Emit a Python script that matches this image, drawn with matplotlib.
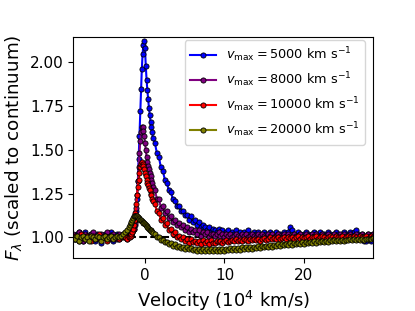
import numpy as np
import matplotlib
matplotlib.use("Agg")
import matplotlib.pyplot as plt

# velocity grid (10^4 km/s): left wing, line core, red wing
vel_blue_wing = np.round(np.arange(-9.0, -1.99, 0.25), 2)
vel_core = np.round(np.arange(-1.9, 1.01, 0.1), 2)
vel_red_wing = np.round(np.arange(1.25, 29.01, 0.25), 2)
vel = np.concatenate([vel_blue_wing, vel_core, vel_red_wing])

flux_5000 = [
    # -9.0 .. -2.0
    1.01, 0.99, 1.02, 1.03, 1.00, 0.98, 1.03, 1.01, 0.99, 1.02,
    1.00, 0.98, 1.02, 1.01, 0.97, 1.00, 1.02, 0.99, 1.01, 1.03,
    0.98, 1.00, 1.02, 0.99, 1.01, 1.02, 1.00, 0.99, 1.02,
    # -1.9 .. 1.0
    1.01, 1.02, 1.02, 1.03, 1.04, 1.05, 1.07, 1.10, 1.15, 1.22,
    1.32, 1.45, 1.58, 1.72, 1.85, 1.96, 2.05, 2.10, 2.12, 2.08,
    1.98, 1.90, 1.84, 1.79, 1.74, 1.70, 1.66, 1.63, 1.60, 1.57,
    # 1.25 .. 29.0
    1.54, 1.48, 1.46, 1.40, 1.38, 1.33, 1.31, 1.27, 1.26, 1.22,
    1.21, 1.18, 1.18, 1.15, 1.15, 1.13, 1.13, 1.10, 1.12, 1.09,
    1.10, 1.07, 1.09, 1.06, 1.07, 1.06, 1.04, 1.06, 1.03, 1.05,
    1.04, 1.03, 1.05, 1.03, 1.04, 1.02, 1.03, 1.04, 1.02, 1.03,
    1.02, 1.04, 1.02, 1.03, 1.01, 1.03, 1.02, 1.04, 1.02, 1.01,
    1.03, 1.02, 1.03, 1.01, 1.02, 1.03, 1.02, 1.01, 1.03, 1.02,
    1.01, 1.03, 1.02, 1.02, 1.01, 1.03, 1.02, 1.03, 1.06, 1.04,
    1.02, 1.01, 1.03, 1.02, 1.01, 1.02, 1.03, 1.02, 1.01, 1.02,
    1.03, 1.02, 1.01, 1.03, 1.02, 1.02, 1.01, 1.03, 1.02, 1.01,
    1.02, 1.03, 1.02, 1.01, 1.02, 1.03, 1.02, 1.01, 1.03, 1.02,
    1.03, 1.04, 1.02, 1.01, 1.02, 0.98, 0.98, 1.02, 1.01, 0.98,
    1.02, 1.01]

flux_8000 = [
    1.02, 0.99, 1.01, 1.03, 1.00, 0.98, 1.02, 1.01, 0.99, 1.02,
    1.03, 1.00, 1.01, 0.99, 1.02, 1.00, 1.01, 1.03, 0.99, 1.01,
    1.02, 1.00, 0.99, 1.02, 1.01, 1.00, 1.02, 1.01, 1.01,
    1.01, 1.02, 1.02, 1.03, 1.04, 1.05, 1.08, 1.12, 1.17, 1.24,
    1.32, 1.40, 1.48, 1.55, 1.60, 1.63, 1.63, 1.61, 1.58, 1.54,
    1.50, 1.46, 1.43, 1.41, 1.39, 1.37, 1.35, 1.33, 1.31, 1.29,
    1.27, 1.22, 1.22, 1.17, 1.18, 1.14, 1.15, 1.11, 1.12, 1.09,
    1.10, 1.07, 1.08, 1.06, 1.07, 1.04, 1.06, 1.03, 1.05, 1.03,
    1.04, 1.02, 1.04, 1.01, 1.03, 1.02, 1.03, 1.00, 1.02, 1.02,
    1.01, 1.02, 1.03, 1.01, 1.02, 1.00, 1.02, 1.01, 1.02, 1.00,
    1.01, 1.02, 1.01, 1.00, 1.02, 1.01, 1.02, 1.00, 1.01, 1.02,
    1.01, 1.00, 1.02, 1.01, 1.02, 1.01, 1.00, 1.02, 1.01, 1.02,
    1.00, 1.01, 1.02, 1.01, 1.00, 1.02, 1.01, 1.02, 1.01, 1.00,
    1.02, 1.01, 1.01, 1.02, 1.00, 1.01, 1.02, 1.01, 1.00, 1.02,
    1.01, 1.02, 1.01, 1.00, 1.02, 1.01, 1.01, 1.02, 1.00, 1.01,
    1.02, 1.01, 1.00, 1.02, 1.01, 1.02, 1.01, 1.00, 1.02, 1.01,
    1.01, 1.02, 1.00, 1.01, 1.02, 1.01, 1.00, 1.02, 1.01, 1.01,
    1.02, 1.01]

flux_10000 = [
    0.99, 1.01, 1.00, 0.98, 1.02, 1.00, 0.99, 1.01, 1.00, 0.98,
    1.01, 0.99, 1.00, 1.02, 0.99, 1.00, 1.01, 0.98, 1.00, 1.01,
    0.99, 1.00, 1.01, 0.99, 1.00, 1.01, 1.00, 0.99, 1.00,
    1.00, 1.01, 1.02, 1.03, 1.05, 1.07, 1.10, 1.14, 1.19, 1.24,
    1.29, 1.33, 1.37, 1.40, 1.42, 1.43, 1.42, 1.41, 1.39, 1.37,
    1.35, 1.33, 1.31, 1.30, 1.28, 1.27, 1.25, 1.24, 1.22, 1.21,
    1.19, 1.15, 1.14, 1.10, 1.11, 1.07, 1.08, 1.04, 1.05, 1.02,
    1.03, 1.00, 1.01, 0.99, 1.00, 0.98, 0.99, 0.97, 0.99, 0.975,
    0.98, 0.97, 0.98, 0.965, 0.985, 0.97, 0.98, 0.965, 0.985, 0.97,
    0.97, 0.98, 0.975, 0.98, 0.97, 0.98, 0.985, 0.975, 0.98, 0.985,
    0.98, 0.99, 0.98, 0.985, 0.98, 0.99, 0.985, 0.98, 0.99, 0.985,
    0.99, 0.985, 0.99, 0.98, 0.99, 0.995, 0.985, 0.99, 1.00, 0.99,
    0.995, 0.99, 1.00, 0.99, 0.995, 1.00, 0.99, 1.00, 0.995, 1.00,
    0.99, 1.00, 1.01, 0.99, 1.00, 0.995, 1.00, 1.01, 0.99, 1.00,
    1.00, 1.01, 0.99, 1.00, 1.01, 1.00, 0.99, 1.00, 1.01, 1.00,
    0.99, 1.01, 1.00, 1.00, 1.01, 0.99, 1.00, 1.01, 1.00, 0.99,
    1.01, 1.00, 0.99, 1.01, 1.00, 1.00, 1.01, 0.99, 1.00, 1.01,
    1.00, 1.00]

flux_20000 = [
    1.00, 0.99, 1.01, 0.98, 1.00, 1.01, 0.99, 1.00, 0.98, 1.01,
    1.00, 0.99, 1.01, 1.00, 0.98, 1.00, 1.01, 0.99, 1.00, 1.01,
    0.99, 1.00, 1.01, 1.00, 1.01, 1.02, 1.03, 1.04, 1.06,
    1.07, 1.08, 1.09, 1.10, 1.11, 1.12, 1.125, 1.125, 1.12, 1.12,
    1.115, 1.11, 1.105, 1.10, 1.10, 1.095, 1.09, 1.085, 1.08, 1.075,
    1.07, 1.065, 1.06, 1.055, 1.05, 1.045, 1.04, 1.035, 1.03, 1.025,
    1.02, 1.00, 1.00, 0.985, 0.988, 0.972, 0.975, 0.96, 0.968, 0.953,
    0.96, 0.946, 0.952, 0.94, 0.948, 0.936, 0.944, 0.932, 0.94, 0.928,
    0.937, 0.925, 0.935, 0.922, 0.934, 0.921, 0.933, 0.92, 0.932, 0.922,
    0.933, 0.921, 0.934, 0.923, 0.935, 0.924, 0.937, 0.926, 0.938, 0.928,
    0.939, 0.929, 0.941, 0.931, 0.943, 0.933, 0.945, 0.935, 0.946, 0.937,
    0.948, 0.939, 0.95, 0.941, 0.952, 0.943, 0.954, 0.945, 0.956, 0.948,
    0.958, 0.95, 0.96, 0.952, 0.962, 0.955, 0.964, 0.957, 0.966, 0.959,
    0.968, 0.961, 0.97, 0.963, 0.972, 0.965, 0.974, 0.967, 0.975, 0.969,
    0.977, 0.971, 0.978, 0.973, 0.98, 0.974, 0.981, 0.976, 0.983, 0.977,
    0.984, 0.979, 0.985, 0.98, 0.987, 0.982, 0.988, 0.983, 0.989, 0.984,
    0.99, 0.986, 0.991, 0.987, 0.992, 0.988, 0.993, 0.989, 0.994, 0.99,
    0.995, 0.991]

series = [(flux_5000, 'blue', 5000), (flux_8000, 'purple', 8000),
          (flux_10000, 'red', 10000), (flux_20000, 'olive', 20000)]

fig = plt.figure(figsize=(4.15, 3.11), dpi=100)
ax = fig.add_axes([0.177, 0.170, 0.722, 0.711])

ax.axhline(1.0, color='k', ls='--', lw=1.5, zorder=0)
for flux, col, vmax in series:
    ax.plot(vel, flux, '-', color=col, lw=1.5, marker='o', markersize=3.7,
            markeredgecolor='k', markeredgewidth=0.6,
            label=r'$v_{\rm max} = %d$ km s$^{-1}$' % vmax)

ax.set_xlim(-9.0, 28.7)
ax.set_ylim(0.882, 2.145)
ax.set_yticks([1.0, 1.25, 1.5, 1.75, 2.0])
ax.set_xticks([0, 10, 20])
ax.tick_params(labelsize=11)
ax.set_xlabel(r'Velocity (10$^4$ km/s)', fontsize=13)
ax.set_ylabel(r'$F_\lambda$ (scaled to continuum)', fontsize=13.2)
ax.legend(loc='upper right', bbox_to_anchor=(0.973, 0.986),
          borderaxespad=0, fontsize=9.3)

fig.savefig('out.png', dpi=100)
